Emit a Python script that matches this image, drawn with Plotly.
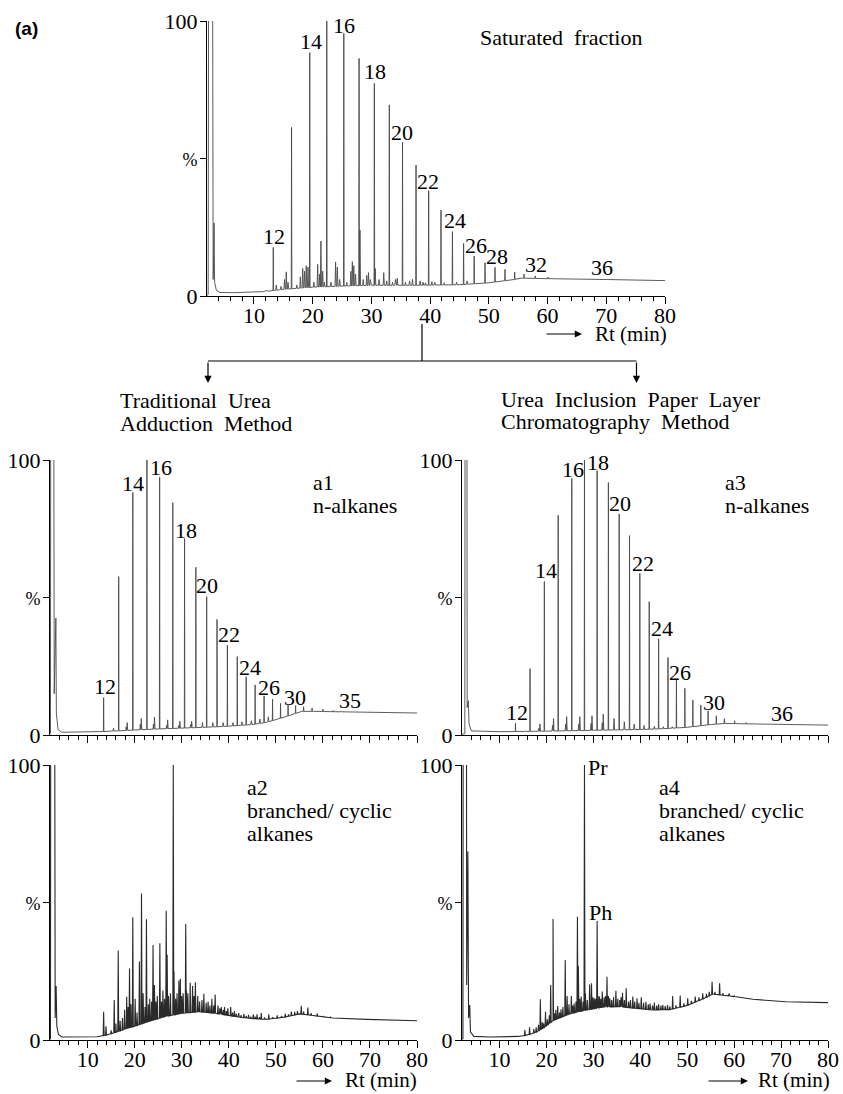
import numpy as np
import plotly.graph_objects as go

W, H = 843, 1094

# ------------------------------------------------------------------ data
# x axis = retention time Rt (min), y axis = relative abundance (%)
x_ticks = [10, 20, 30, 40, 50, 60, 70, 80]
x_minor = [4, 6, 8, 12, 14, 16, 18, 22, 24, 26, 28, 32, 34, 36, 38, 42, 44, 46, 48,
           52, 54, 56, 58, 62, 64, 66, 68, 72, 74, 76, 78]
y_ticks = [0, 50, 100]
y_ticktext = ["0", "<span style='font-size:18px'>%</span>", "100"]

# ---- Saturated fraction (top)
top_solv_t = [2.0, 2.2, 2.27, 2.95, 3.05, 3.2, 3.3, 3.6, 4.2]
top_solv_h = [0.3, 0.5, 120, 120, 6, 26.5, 5, 2.0, 1.3]
top_base_t = [4.2, 6.5, 11.6, 15, 20, 25, 30, 38, 45, 50, 54.3, 55.5, 60, 70, 80]
top_base_h = [1.3, 1.2, 1.6, 2.4, 3.2, 3.6, 3.9, 3.9, 4.1, 4.8, 6.0, 6.5, 6.3, 6.0, 5.6]
top_nalk_t = [13.29, 16.4, 19.5, 22.4, 25.3, 27.9, 30.5, 33.05, 35.3, 37.6, 39.75, 41.85,
              43.8, 45.7, 47.5, 49.35, 51.05, 52.75, 54.4, 56.0, 57.9, 60.1]
top_nalk_h = [17.7, 61.3, 88.5, 100, 95.5, 86.4, 77.3, 69.5, 55.9, 47.6, 38.3, 31.3,
              23.4, 19.1, 14.5, 12.1, 10.4, 9.7, 8.7, 8.0, 7.3, 6.9]
top_minor_t = [12.2, 13.8, 14.6, 15.2, 15.5, 15.8, 17.3, 17.9, 18.3, 18.6, 18.9, 19.2,
               20.2, 20.85, 21.2, 21.4, 21.7, 22.0, 23.1, 23.9, 24.2, 24.6, 25.8, 26.5,
               26.75, 27.0, 27.3, 28.05, 28.6, 29.2, 29.5, 29.8, 30.65, 31.3, 32.1, 32.6,
               33.6, 34.1, 34.4, 35.8, 36.5, 37.0, 38.3, 38.8, 39.2, 40.3, 40.8, 42.4,
               44.5, 46.3]
top_minor_h = [2.0, 4.0, 3.5, 6.0, 8.8, 5.0, 4.0, 7.0, 10.0, 9.0, 11.0, 10.5,
               5.0, 11.5, 8.0, 20.0, 9.0, 5.0, 5.0, 12.4, 10.5, 6.0, 5.0, 9.0,
               12.5, 11.0, 8.0, 24.0, 6.0, 7.5, 8.5, 6.0, 10.0, 6.0, 8.5, 5.5,
               5.0, 6.0, 6.5, 5.0, 5.5, 6.0, 5.5, 5.0, 4.8, 5.2, 5.0, 4.8,
               5.0, 5.5]
top_lab_text = ["12", "14", "16", "18", "20", "22", "24", "26", "28", "32", "36"]
top_lab_t = [13.46, 19.68, 25.38, 30.66, 35.26, 39.69, 44.29, 47.87, 51.45, 58.09, 69.34]
top_lab_h = [21.8, 92.4, 98.5, 81.5, 59.3, 41.8, 27.6, 18.2, 14.2, 11.3, 10.2]

# ---- a1 n-alkanes (traditional urea adduction)
a1_solv_t = [2.0, 2.1, 2.15, 2.8, 2.9, 3.25, 3.35, 3.7, 4.5]
a1_solv_h = [0.3, 0.5, 120, 120, 15, 42.5, 8, 2.0, 1.0]
a1_base_t = [4.5, 10, 15, 20, 25, 30, 35, 40, 45, 48, 52, 55.5, 58, 65, 80]
a1_base_h = [1.0, 1.0, 1.4, 1.8, 2.2, 2.5, 2.8, 3.2, 3.8, 4.6, 6.6, 8.6, 8.6, 8.4, 8.0]
a1_nalk_t = [13.4, 16.6, 19.6, 22.6, 25.3, 28.1, 30.6, 33.0, 35.3, 37.5, 39.7, 41.8,
             43.7, 45.6, 47.5, 49.3, 51.0, 52.6, 54.2, 55.9, 57.7, 60.0, 62.2]
a1_nalk_h = [13.6, 57.6, 88.2, 100, 93.7, 84.5, 71.4, 61.0, 50.3, 42.0, 32.7, 28.5,
             21.2, 18.2, 14.2, 13.0, 11.5, 10.9, 10.7, 10.3, 9.8, 9.4, 8.9]
a1_minor_t = [15.5, 18.2, 18.4, 21.2, 21.4, 24.0, 24.2, 26.8, 27.0, 29.4, 29.6, 31.9,
              32.1, 34.4, 36.6, 38.8, 40.9, 42.8, 44.8, 46.6, 48.4, 63.8]
a1_minor_h = [2.5, 3.0, 4.5, 4.0, 6.0, 4.0, 6.5, 3.5, 5.5, 3.5, 5.0, 3.8,
              5.0, 4.5, 4.5, 4.5, 4.5, 4.8, 5.2, 5.8, 6.6, 8.7]
a1_lab_text = ["12", "14", "16", "18", "20", "22", "24", "26", "30", "35"]
a1_lab_t = [13.6, 19.65, 25.6, 30.8, 35.45, 40.1, 44.6, 48.6, 54.1, 65.8]
a1_lab_h = [17.5, 91.6, 97.1, 74.5, 54.2, 36.7, 24.4, 17.1, 13.8, 12.5]

# ---- a3 n-alkanes (urea inclusion paper layer chromatography)
a3_solv_t = [2.0, 2.6, 2.65, 3.05, 3.1, 3.35, 3.5, 4.0]
a3_solv_h = [0.3, 0.5, 120, 120, 10, 12.5, 4, 1.5]
a3_base_t = [4.0, 10, 20, 30, 40, 45, 50, 55, 58, 65, 80]
a3_base_h = [1.3, 1.2, 1.4, 1.7, 2.0, 2.3, 2.8, 3.8, 4.2, 4.0, 3.6]
a3_nalk_t = [13.4, 16.5, 19.55, 22.5, 25.4, 28.1, 30.8, 33.2, 35.5, 37.7, 39.9, 41.9,
             43.9, 45.9, 47.7, 49.5, 51.2, 52.9, 54.45, 56.2, 57.9, 60.1, 62.5, 65.4]
a3_nalk_h = [4.2, 24.1, 55.8, 79.9, 93.3, 100, 96.1, 91.8, 80.4, 72.5, 58.8, 48.5,
             35.0, 28.2, 20.0, 17.0, 12.7, 10.9, 8.8, 7.0, 5.9, 5.2, 4.5, 4.1]
a3_minor_t = [15.5, 18.4, 18.6, 21.3, 21.5, 24.1, 24.3, 26.9, 27.1, 29.5, 29.7, 31.9,
              32.1, 34.4, 36.6, 38.7, 40.8, 43.0, 44.9, 46.8]
a3_minor_h = [1.5, 2.5, 4.0, 3.5, 6.0, 4.0, 6.7, 4.0, 6.7, 4.2, 7.0, 4.5,
              7.6, 6.0, 4.8, 4.0, 3.5, 3.2, 3.0, 3.0]
a3_lab_text = ["12", "14", "16", "18", "20", "22", "24", "26", "30", "36"]
a3_lab_t = [13.66, 19.87, 25.56, 30.9, 35.75, 40.49, 44.64, 48.5, 55.6, 70.1]
a3_lab_h = [8.2, 59.8, 96.7, 99.2, 84.0, 62.2, 38.8, 22.8, 11.9, 7.9]

# ---- a2 branched/cyclic alkanes (traditional)
a2_solv_t = [2.0, 2.1, 2.15, 3.0, 3.1, 3.3, 3.45, 3.8, 4.5]
a2_solv_h = [0.3, 0.5, 120, 120, 8, 19.6, 5, 2.0, 1.1]
a2_base_t = [4.5, 10, 12, 14, 16, 18, 20, 23, 26.4, 30, 33.6, 37.2, 40.7, 44.3, 47.9,
             51.5, 55.1, 58.7, 62.2, 69.3, 80]
a2_base_h = [1.1, 1.0, 1.2, 1.8, 2.8, 4.0, 5.0, 6.7, 8.5, 9.7, 10.3, 9.7, 8.7, 7.9, 7.5,
             8.2, 9.5, 8.7, 8.0, 7.5, 7.0]
a2_pk_t = [13.4, 13.9, 15.0, 15.65, 16.0, 16.5, 16.9, 17.4, 17.85, 18.3, 18.6, 18.9,
           19.2, 19.6, 20.1, 20.5, 21.0, 21.45, 21.8, 22.2, 22.5, 22.9, 23.2, 23.6,
           23.9, 24.2, 24.5, 24.8, 25.35, 25.7, 26.0, 26.35, 26.7, 26.9, 27.2, 27.6,
           28.2, 28.35, 28.7, 29.0, 29.4, 29.7, 30.0, 30.3, 30.85, 31.0, 31.3, 31.8,
           32.3, 32.6, 32.9, 33.4, 33.8, 34.3, 34.7, 35.2, 35.6, 36.0, 36.4, 36.8,
           37.1, 37.7, 38.1, 38.4, 38.8, 39.1, 39.5, 39.8, 40.4, 40.8, 41.2, 41.6,
           42.1, 42.6, 43.2, 43.7, 44.2, 44.7, 45.2, 45.6, 46.0, 46.5, 46.9, 47.6,
           48.5, 49.3, 50.3, 51.2, 52.0, 52.7, 53.3, 54.0, 54.6, 55.4, 55.9, 56.8,
           57.5, 58.8, 60.2, 61.6]
a2_pk_h = [10.3, 5.0, 3.5, 14.5, 6.0, 32.5, 7.0, 8.0, 11.0, 15.7, 12.0, 26.0,
           13.0, 44.6, 15.0, 10.0, 28.5, 53.3, 17.0, 12.0, 43.9, 13.0, 15.0, 14.0,
           34.5, 20.0, 14.0, 16.0, 35.2, 14.0, 18.0, 15.0, 47.0, 31.0, 16.0, 17.0,
           100, 25.0, 15.0, 17.0, 21.6, 22.3, 16.0, 17.0, 42.2, 18.0, 17.0, 20.8,
           19.6, 16.0, 21.0, 16.0, 14.0, 14.5, 16.8, 13.5, 14.0, 12.5, 15.0, 12.5,
           16.5, 12.5, 11.5, 12.0, 11.0, 12.0, 10.5, 11.5, 12.0, 10.0, 10.5, 9.5,
           9.8, 9.0, 9.5, 8.8, 9.2, 8.5, 9.3, 8.5, 9.3, 8.3, 9.8, 8.2,
           9.3, 8.3, 9.0, 8.8, 9.5, 9.3, 10.3, 10.2, 10.5, 12.4, 10.3, 11.8,
           9.8, 9.6, 8.6, 8.5]

# ---- a4 branched/cyclic alkanes (paper layer)
a4_solv_t = [2.0, 2.2, 2.25, 2.95, 3.0, 3.25, 3.4, 3.65, 3.8, 4.5]
a4_solv_h = [0.3, 0.5, 120, 120, 20, 68.5, 8, 12.7, 3, 1.3]
a4_base_t = [4.5, 8, 14, 16, 18, 19.5, 21.4, 25, 28.5, 32.1, 35.6, 39.2, 42.8, 46.4,
             49.9, 53.4, 55.5, 59.1, 64, 71, 80]
a4_base_h = [1.3, 1.1, 1.3, 1.8, 3.0, 4.5, 7.0, 9.5, 10.9, 12.0, 12.1, 11.5, 10.9, 11.1,
             12.5, 15.0, 16.7, 16.0, 14.8, 13.9, 13.6]
a4_pk_t = [15.4, 16.4, 17.3, 17.8, 18.3, 18.7, 19.1, 19.4, 19.8, 20.2, 20.6, 20.9,
           21.4, 21.7, 22.0, 22.4, 22.8, 23.1, 23.5, 24.0, 24.4, 24.8, 25.3, 25.6,
           25.9, 26.3, 26.6, 26.8, 27.1, 27.4, 27.8, 28.1, 28.3, 28.7, 29.2, 29.6,
           29.9, 30.2, 30.5, 30.8, 31.0, 31.3, 31.6, 31.9, 32.3, 32.6, 32.9, 33.2,
           33.5, 33.9, 34.3, 34.8, 35.2, 35.6, 35.9, 36.2, 36.6, 37.0, 37.5, 37.9,
           38.4, 38.8, 39.3, 39.7, 40.2, 40.7, 41.2, 41.7, 42.1, 42.6, 43.0, 43.5,
           43.9, 44.4, 44.8, 45.3, 45.8, 46.3, 46.9, 47.6, 48.5, 49.3, 50.1, 50.9,
           51.7, 52.5, 53.3, 54.1, 54.7, 55.3, 55.9, 56.9, 57.6, 58.9, 60.0, 61.2, 63.0]
a4_pk_h = [3.6, 4.6, 4.0, 4.6, 5.5, 14.8, 6.5, 6.1, 10.3, 7.5, 9.0, 20.0,
           44.0, 9.7, 11.0, 12.4, 10.0, 11.2, 12.0, 29.1, 16.0, 13.0, 16.0, 12.5,
           13.3, 14.0, 44.8, 27.0, 15.0, 15.8, 14.0, 100, 17.0, 14.5, 20.2, 20.6,
           15.5, 15.2, 15.0, 43.3, 16.0, 15.8, 15.0, 17.6, 15.5, 16.0, 23.0, 16.0,
           15.2, 14.5, 15.5, 17.9, 15.0, 14.5, 15.5, 17.2, 14.5, 18.8, 14.0, 14.5,
           15.8, 14.0, 15.2, 13.5, 15.5, 13.5, 13.9, 13.0, 13.3, 12.5, 13.6, 12.5,
           13.0, 12.5, 12.7, 12.3, 12.7, 12.2, 16.0, 12.6, 16.2, 13.3, 15.2, 14.2,
           15.8, 15.5, 17.0, 16.8, 17.5, 21.2, 17.5, 20.6, 17.0, 16.9, 16.2, 15.6, 15.0]

# ------------------------------------------------------------------ helpers
def px(x):
    return x / W


def py(y):
    return 1 - y / H


def chrom(solv_t, solv_h, base_t, base_h, peak_sets):
    pts = list(zip(solv_t, solv_h))
    t_end = solv_t[-1]
    pts += [(t, h) for t, h in zip(base_t, base_h) if t > t_end]
    for pk_t, pk_h, w in peak_sets:
        for t, h in zip(pk_t, pk_h):
            b = float(np.interp(t, base_t, base_h))
            pts += [(t - w, b), (t, h), (t + w, b)]
    pts.sort(key=lambda p: p[0])
    return [p[0] for p in pts], [p[1] for p in pts]


SERIF = "Liberation Serif, Times New Roman, Times, serif"
FS = 22

panels = {
    # name: (x domain px, y domain px (top,bottom), show x labels, line colour, width)
    "top": ((207, 665), (21, 296), True, "#4a4a4a", 0.9),
    "a1": ((50, 417), (460, 735), False, "#4a4a4a", 0.9),
    "a3": ((462, 828), (460, 735), False, "#4a4a4a", 0.9),
    "a2": ((50, 417), (765, 1040), True, "#2a2a2a", 1.1),
    "a4": ((462, 828), (765, 1040), True, "#2a2a2a", 1.1),
}
order = ["top", "a1", "a3", "a2", "a4"]

data = {
    "top": chrom(top_solv_t, top_solv_h, top_base_t, top_base_h,
                 [(top_minor_t, top_minor_h, 0.1), (top_nalk_t, top_nalk_h, 0.05)]),
    "a1": chrom(a1_solv_t, a1_solv_h, a1_base_t, a1_base_h,
                [(a1_minor_t, a1_minor_h, 0.12), (a1_nalk_t, a1_nalk_h, 0.05)]),
    "a3": chrom(a3_solv_t, a3_solv_h, a3_base_t, a3_base_h,
                [(a3_minor_t, a3_minor_h, 0.12), (a3_nalk_t, a3_nalk_h, 0.05)]),
    "a2": chrom(a2_solv_t, a2_solv_h, a2_base_t, a2_base_h, [(a2_pk_t, a2_pk_h, 0.1)]),
    "a4": chrom(a4_solv_t, a4_solv_h, a4_base_t, a4_base_h, [(a4_pk_t, a4_pk_h, 0.1)]),
}

fig = go.Figure()
layout = dict(width=W, height=H,
              margin=dict(l=0, r=0, t=0, b=0, pad=0, autoexpand=False), autosize=False,
              paper_bgcolor="white", plot_bgcolor="white", showlegend=False,
              font=dict(family=SERIF, size=FS, color="black"))

for i, name in enumerate(order):
    (x0, x1), (y0, y1), showlab, lc, lw = panels[name]
    sfx = "" if i == 0 else str(i + 1)
    xs, ys = data[name]
    fig.add_trace(go.Scatter(x=xs, y=ys, mode="lines", xaxis="x" + sfx, yaxis="y" + sfx,
                             line=dict(color=lc, width=lw), hoverinfo="skip"))
    layout["xaxis" + sfx] = dict(
        domain=[px(x0), px(x1)], range=[2, 80], anchor="y" + sfx, automargin=False,
        showline=True, linecolor="black", linewidth=1, showgrid=False, zeroline=False,
        tickmode="array", tickvals=x_ticks, ticks="outside", ticklen=7, tickwidth=1,
        tickcolor="black", showticklabels=showlab, ticklabelstandoff=-7,
        tickfont=dict(family=SERIF, size=FS, color="black"),
        minor=dict(tickmode="array", tickvals=x_minor, ticks="outside", ticklen=4,
                   tickwidth=1, tickcolor="black", showgrid=False))
    layout["yaxis" + sfx] = dict(
        domain=[py(y1), py(y0)], range=[0, 100], anchor="x" + sfx, automargin=False,
        showline=True, linecolor="black", linewidth=1, showgrid=False, zeroline=False,
        tickmode="array", tickvals=y_ticks, ticktext=y_ticktext, ticks="outside",
        ticklen=6, tickwidth=1, tickcolor="black", ticklabelstandoff=-2,
        tickfont=dict(family=SERIF, size=FS, color="black"))

fig.update_layout(**layout)

ann = []
# peak number labels
for sfx, texts, ts, hs in [("", top_lab_text, top_lab_t, top_lab_h),
                           ("2", a1_lab_text, a1_lab_t, a1_lab_h),
                           ("3", a3_lab_text, a3_lab_t, a3_lab_h)]:
    for tx, t, h in zip(texts, ts, hs):
        ann.append(dict(x=t, y=h, xref="x" + sfx, yref="y" + sfx, text=tx, showarrow=False,
                        xanchor="center", yanchor="middle", font=dict(size=FS)))

# Pr / Ph labels in a4
ann.append(dict(x=28.4, y=99.0, xref="x5", yref="y5", text="Pr", showarrow=False,
                xanchor="left", yanchor="middle", font=dict(size=FS)))
ann.append(dict(x=28.6, y=46.5, xref="x5", yref="y5", text="Ph", showarrow=False,
                xanchor="left", yanchor="middle", font=dict(size=FS)))


def ptext(text, x, y, size=FS, anchor="left", family=SERIF, bold=False):
    t = "<b>%s</b>" % text if bold else text
    ann.append(dict(x=px(x), y=py(y), xref="paper", yref="paper", text=t, showarrow=False,
                    xanchor=anchor, yanchor="middle", font=dict(size=size, family=family)))


ptext("(a)", 13, 29, size=19, family="Liberation Sans, Arial, sans-serif", bold=True)
ptext("Saturated\u00a0 fraction", 478, 38)
ptext("Traditional\u00a0 Urea", 118, 400)
ptext("Adduction\u00a0 Method", 118, 423.5)
ptext("Urea\u00a0 Inclusion\u00a0 Paper\u00a0 Layer", 499, 399.5)
ptext("Chromatography\u00a0 Method", 499, 422)
ptext("a1", 310.5, 483)
ptext("n-alkanes", 310.5, 505.5)
ptext("a3", 723, 482)
ptext("n-alkanes", 723, 505.5)
ptext("a2", 245, 787)
ptext("branched/ cyclic", 245, 810)
ptext("alkanes", 245, 833.5)
ptext("a4", 657, 787)
ptext("branched/ cyclic", 657, 810)
ptext("alkanes", 657, 833.5)
ptext("Rt (min)", 593, 334, size=21)
ptext("Rt (min)", 343, 1079.5, size=21)
ptext("Rt (min)", 756, 1079.5, size=21)


def arrow(x_tip, y_tip, x_tail, y_tail):
    ann.append(dict(x=px(x_tip), y=py(y_tip), xref="paper", yref="paper", text="",
                    showarrow=True, ax=x_tail - x_tip, ay=y_tail - y_tip,
                    arrowhead=2, arrowsize=1.2, arrowwidth=1.2, arrowcolor="black",
                    standoff=0, startstandoff=0))


arrow(582, 334, 545, 334)
arrow(332, 1081, 295, 1081)
arrow(748, 1081, 707, 1081)
arrow(208, 383, 208, 361)
arrow(636.5, 383, 636.5, 361)

fig.update_layout(annotations=ann)
fig.add_shape(type="line", xref="paper", yref="paper", x0=px(422), x1=px(422),
              y0=py(324), y1=py(361), line=dict(color="black", width=1.2))
fig.add_shape(type="line", xref="paper", yref="paper", x0=px(208), x1=px(636.5),
              y0=py(361), y1=py(361), line=dict(color="black", width=1.2))

fig.write_html("out.html", config={"displayModeBar": False},
               post_script="document.body.style.margin='0';"
                           "document.body.style.overflow='hidden';"
                           "document.documentElement.style.overflow='hidden';")
